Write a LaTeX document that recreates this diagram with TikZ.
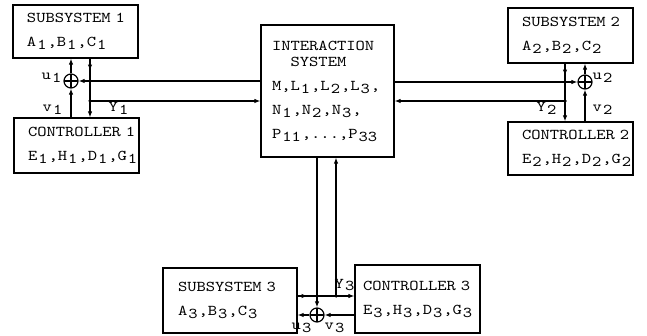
\documentclass[tikz,border=0pt]{standalone}
\usepackage{fontspec}
\newfontfamily\typew{lmmono10-regular}[Extension=.otf, FakeStretch=1.18]
\usetikzlibrary{arrows.meta,decorations.markings}
\newcommand{\lo}[1]{\kern1pt\raisebox{-0.45ex}{#1}\kern1pt}

\begin{document}
\begin{tikzpicture}[x=1pt, y=-1pt, line width=1.2pt, >={Latex[length=6pt,width=4.5pt]},
    every node/.style={font=\typew\fontsize{15}{24}\selectfont},
    block/.style={draw, align=left, inner xsep=14pt, inner ysep=0pt, text width=97pt, minimum height=#1},
    sum/.style={draw, circle, minimum size=14pt, inner sep=0pt,
        path picture={\draw (path picture bounding box.north) -- (path picture bounding box.south)
                            (path picture bounding box.west) -- (path picture bounding box.east);}},
    dot/.style={fill, circle, inner sep=0pt, minimum size=3.5pt},
    out arrow/.style={postaction={decorate}, decoration={markings, mark=at position #1 with {\arrow{>}}}}]
    \useasboundingbox (0,0) rectangle (647,336);

    % blocks
    \node[block=53pt] (sub1) at (75.5,31.5) {SUBSYSTEM~1\\A\lo{1},B\lo{1},C\lo{1}};
    \node[block=55pt] (con1) at (76.5,145.5) {CONTROLLER~1\\E\lo{1},H\lo{1},D\lo{1},G\lo{1}};
    \node[block=132pt, inner xsep=11pt, text width=111pt] (inter) at (327.5,91)
        {INTERACTION\\[-8pt]\phantom{IN}SYSTEM\\M,L\lo{1},L\lo{2},L\lo{3},\\N\lo{1},N\lo{2},N\lo{3},\\P\lo{11},...,P\lo{33}};
    \node[block=55pt] (sub2) at (570.5,35.5) {SUBSYSTEM~2\\A\lo{2},B\lo{2},C\lo{2}};
    \node[block=53pt] (con2) at (570.5,148.5) {CONTROLLER~2\\E\lo{2},H\lo{2},D\lo{2},G\lo{2}};
    \node[block=65pt, inner xsep=15pt, text width=104pt] (sub3) at (230,300.5) {SUBSYSTEM~3\\A\lo{3},B\lo{3},C\lo{3}};
    \node[block=68pt, inner xsep=8pt, text width=109pt] (con3) at (417.5,299) {CONTROLLER~3\\E\lo{3},H\lo{3},D\lo{3},G\lo{3}};

    % summing points and branch points
    \node[sum] (sum1) at (71,81) {};
    \node[sum] (sum2) at (585,82) {};
    \node[sum] (sum3) at (317,315) {};
    \coordinate (j1) at (90,101);
    \coordinate (j2) at (565,101);
    \coordinate (j3) at (336,296);

    % loop 1
    \draw[->] (con1.north -| sum1) -- (sum1.south);
    \draw[->] (sum1.north) -- (sub1.south -| sum1);
    \draw[out arrow=12pt] (sub1.south -| j1) -- (j1);
    \draw[->] (j1) -- (con1.north -| j1);
    \draw[->] (j1) -- (j1 -| inter.west);
    \draw[->] (inter.west |- sum1) -- (sum1.east);
    \node[dot] (d1) at (j1) {};

    % loop 2
    \draw[->] (con2.north -| sum2) -- (sum2.south);
    \draw[->] (sum2.north) -- (sub2.south -| sum2);
    \draw[out arrow=12pt] (sub2.south -| j2) -- (j2);
    \draw[->] (j2) -- (con2.north -| j2);
    \draw[->] (j2) -- (j2 -| inter.east);
    \draw[->] (inter.east |- sum2) -- (sum2.west);
    \node[dot] (d2) at (j2) {};

    % loop 3
    \draw[->] (con3.west |- sum3) -- (sum3.east);
    \draw[->] (sum3.west) -- (sub3.east |- sum3);
    \draw[out arrow=10pt] (sub3.east |- j3) -- (j3);
    \draw[->] (j3) -- (con3.west |- j3);
    \draw[->] (j3) -- (inter.south -| j3);
    \draw[->] (inter.south -| sum3) -- (sum3.north);
    \node[dot] (d3) at (j3) {};

    % signal labels
    \node (u1) at (52,78) {u\lo{1}};
    \node (v1) at (53,110) {v\lo{1}};
    \node (y1) at (119,108) {Y\lo{1}};
    \node (u2) at (603,78) {u\lo{2}};
    \node (v2) at (603,110) {v\lo{2}};
    \node (y2) at (547,108) {Y\lo{2}};
    \node (u3) at (302,328) {u\lo{3}};
    \node (v3) at (335,328) {v\lo{3}};
    \node (y3) at (345,285) {Y\lo{3}};
\end{tikzpicture}
\end{document}
